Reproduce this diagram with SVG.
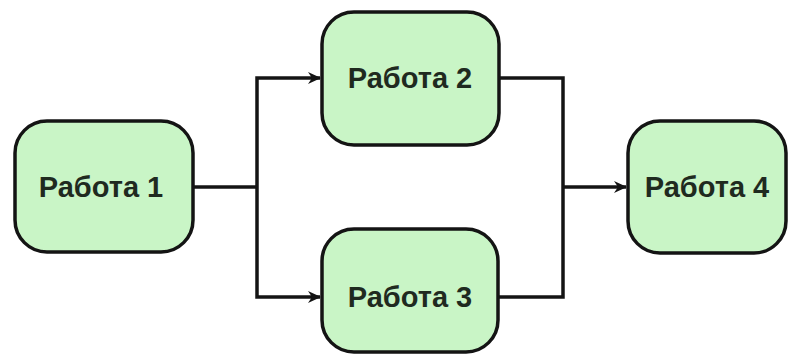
<svg xmlns="http://www.w3.org/2000/svg" width="794" height="362" viewBox="0 0 794 362">
<defs>
<style>
.node rect{fill:#c9f5c6;stroke:#141414;stroke-width:3.5}
.node text{font-family:"Liberation Sans",Arial,sans-serif;font-weight:bold;font-size:29px;fill:#1f2a1f;text-anchor:middle;dominant-baseline:central}
.conn path{fill:none;stroke:#141414;stroke-width:3.5}
</style>
<marker id="arr" markerWidth="13" markerHeight="12" refX="12" refY="6" orient="auto" markerUnits="userSpaceOnUse" viewBox="0 0 13 12">
<path d="M0,0 L13,6 L0,12 L4,6 Z" fill="#141414"/>
</marker>
</defs>
<rect width="794" height="362" fill="#ffffff"/>
<g class="conn">
<path d="M193,187 H257"/>
<path d="M257,187 V78 H320" marker-end="url(#arr)"/>
<path d="M257,187 V297 H320" marker-end="url(#arr)"/>
<path d="M499,78 H563 V297 H498"/>
<path d="M563,187 H626" marker-end="url(#arr)"/>
</g>
<g id="n1" class="node"><rect x="15" y="121" width="178" height="131" rx="32"/><text x="101" y="187">Работа 1</text></g>
<g id="n2" class="node"><rect x="322" y="12" width="177" height="133" rx="32"/><text x="410" y="78">Работа 2</text></g>
<g id="n3" class="node"><rect x="322" y="229" width="176" height="123" rx="32"/><text x="410" y="297">Работа 3</text></g>
<g id="n4" class="node"><rect x="628" y="121" width="158" height="132" rx="32"/><text x="707" y="187">Работа 4</text></g>
</svg>
